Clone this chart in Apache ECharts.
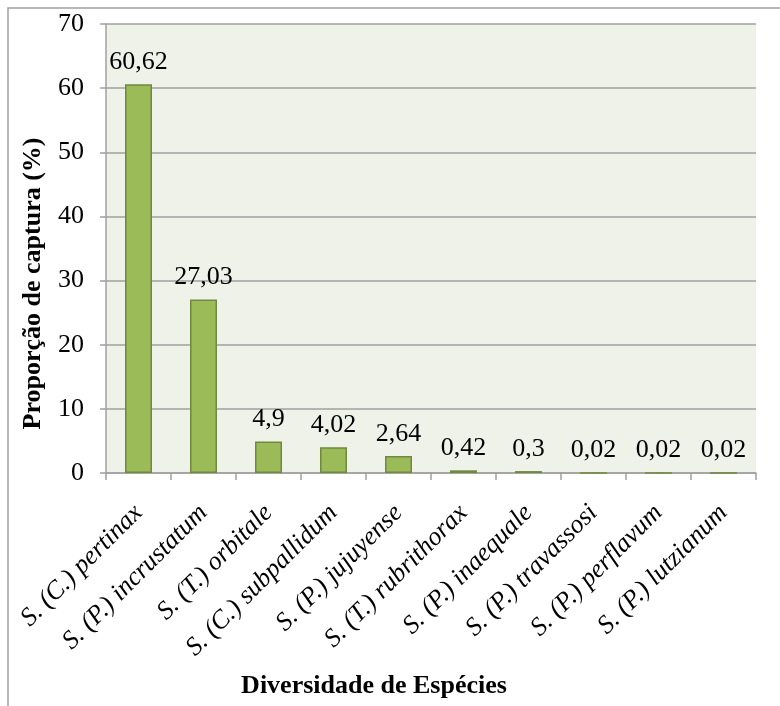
<!DOCTYPE html>
<html>
<head>
<meta charset="utf-8">
<script src="https://cdn.jsdelivr.net/npm/echarts@6/dist/echarts.min.js"></script>
<style>html,body{margin:0;padding:0;background:#fff;}#c{width:780px;height:706px;}</style>
</head>
<body>
<div id="c"></div>
<script>
const categories = ['S. (C.) pertinax','S. (P.) incrustatum','S. (T.) orbitale','S. (C.) subpallidum','S. (P.) jujuyense','S. (T.) rubrithorax','S. (P.) inaequale','S. (P.) travassosi','S. (P.) perflavum','S. (P.) lutzianum'];
const values = [60.62, 27.03, 4.9, 4.02, 2.64, 0.42, 0.3, 0.02, 0.02, 0.02];
const yTicks = {min: 0, max: 70, interval: 10};
const serif = "'Liberation Serif', 'Times New Roman', serif";

const chart = echarts.init(document.getElementById('c'));
chart.setOption({
  animation: false,
  backgroundColor: '#ffffff',
  graphic: [{
    type: 'rect', silent: true, z: -10,
    shape: {x: 8, y: 8, width: 800, height: 720},
    style: {fill: 'none', stroke: '#A0A0A0', lineWidth: 1.5}
  }],
  grid: {left: 106, right: 24, top: 24, bottom: 233, show: true, backgroundColor: '#EFF2E9', borderWidth: 0},
  xAxis: {
    type: 'category', data: categories,
    name: 'Diversidade de Espécies', nameLocation: 'middle', nameGap: 200,
    nameTextStyle: {fontFamily: serif, fontWeight: 'bold', fontSize: 26, color: '#000', padding: [0, 114, 0, 0]},
    axisLine: {lineStyle: {color: '#A0A0A0', width: 1.5}},
    axisTick: {show: true, alignWithLabel: false, length: 7, lineStyle: {color: '#A0A0A0', width: 1.5}},
    axisLabel: {rotate: 45, interval: 0, margin: 36, fontFamily: serif, fontStyle: 'italic', fontSize: 26, color: '#000'}
  },
  yAxis: {
    type: 'value', min: yTicks.min, max: yTicks.max, interval: yTicks.interval,
    name: 'Proporção de captura (%)', nameLocation: 'middle', nameGap: 60,
    nameTextStyle: {fontFamily: serif, fontWeight: 'bold', fontSize: 26, color: '#000', padding: [0, 70, 0, 0]},
    axisLine: {show: true, lineStyle: {color: '#A0A0A0', width: 1.5}},
    axisTick: {show: true, length: 6, lineStyle: {color: '#A0A0A0', width: 1.5}},
    axisLabel: {margin: 22, fontFamily: serif, fontSize: 26, color: '#000'},
    splitLine: {lineStyle: {color: '#A0A0A0', width: 1.5}}
  },
  series: [{
    type: 'bar', data: values, barWidth: 27,
    itemStyle: {color: '#9BBB59', borderColor: '#71893F', borderWidth: 1.5},
    label: {show: true, position: 'top', distance: 9, fontFamily: serif, fontSize: 26, color: '#000',
      formatter: p => String(p.value).replace('.', ',')}
  }]
});
</script>
</body>
</html>
